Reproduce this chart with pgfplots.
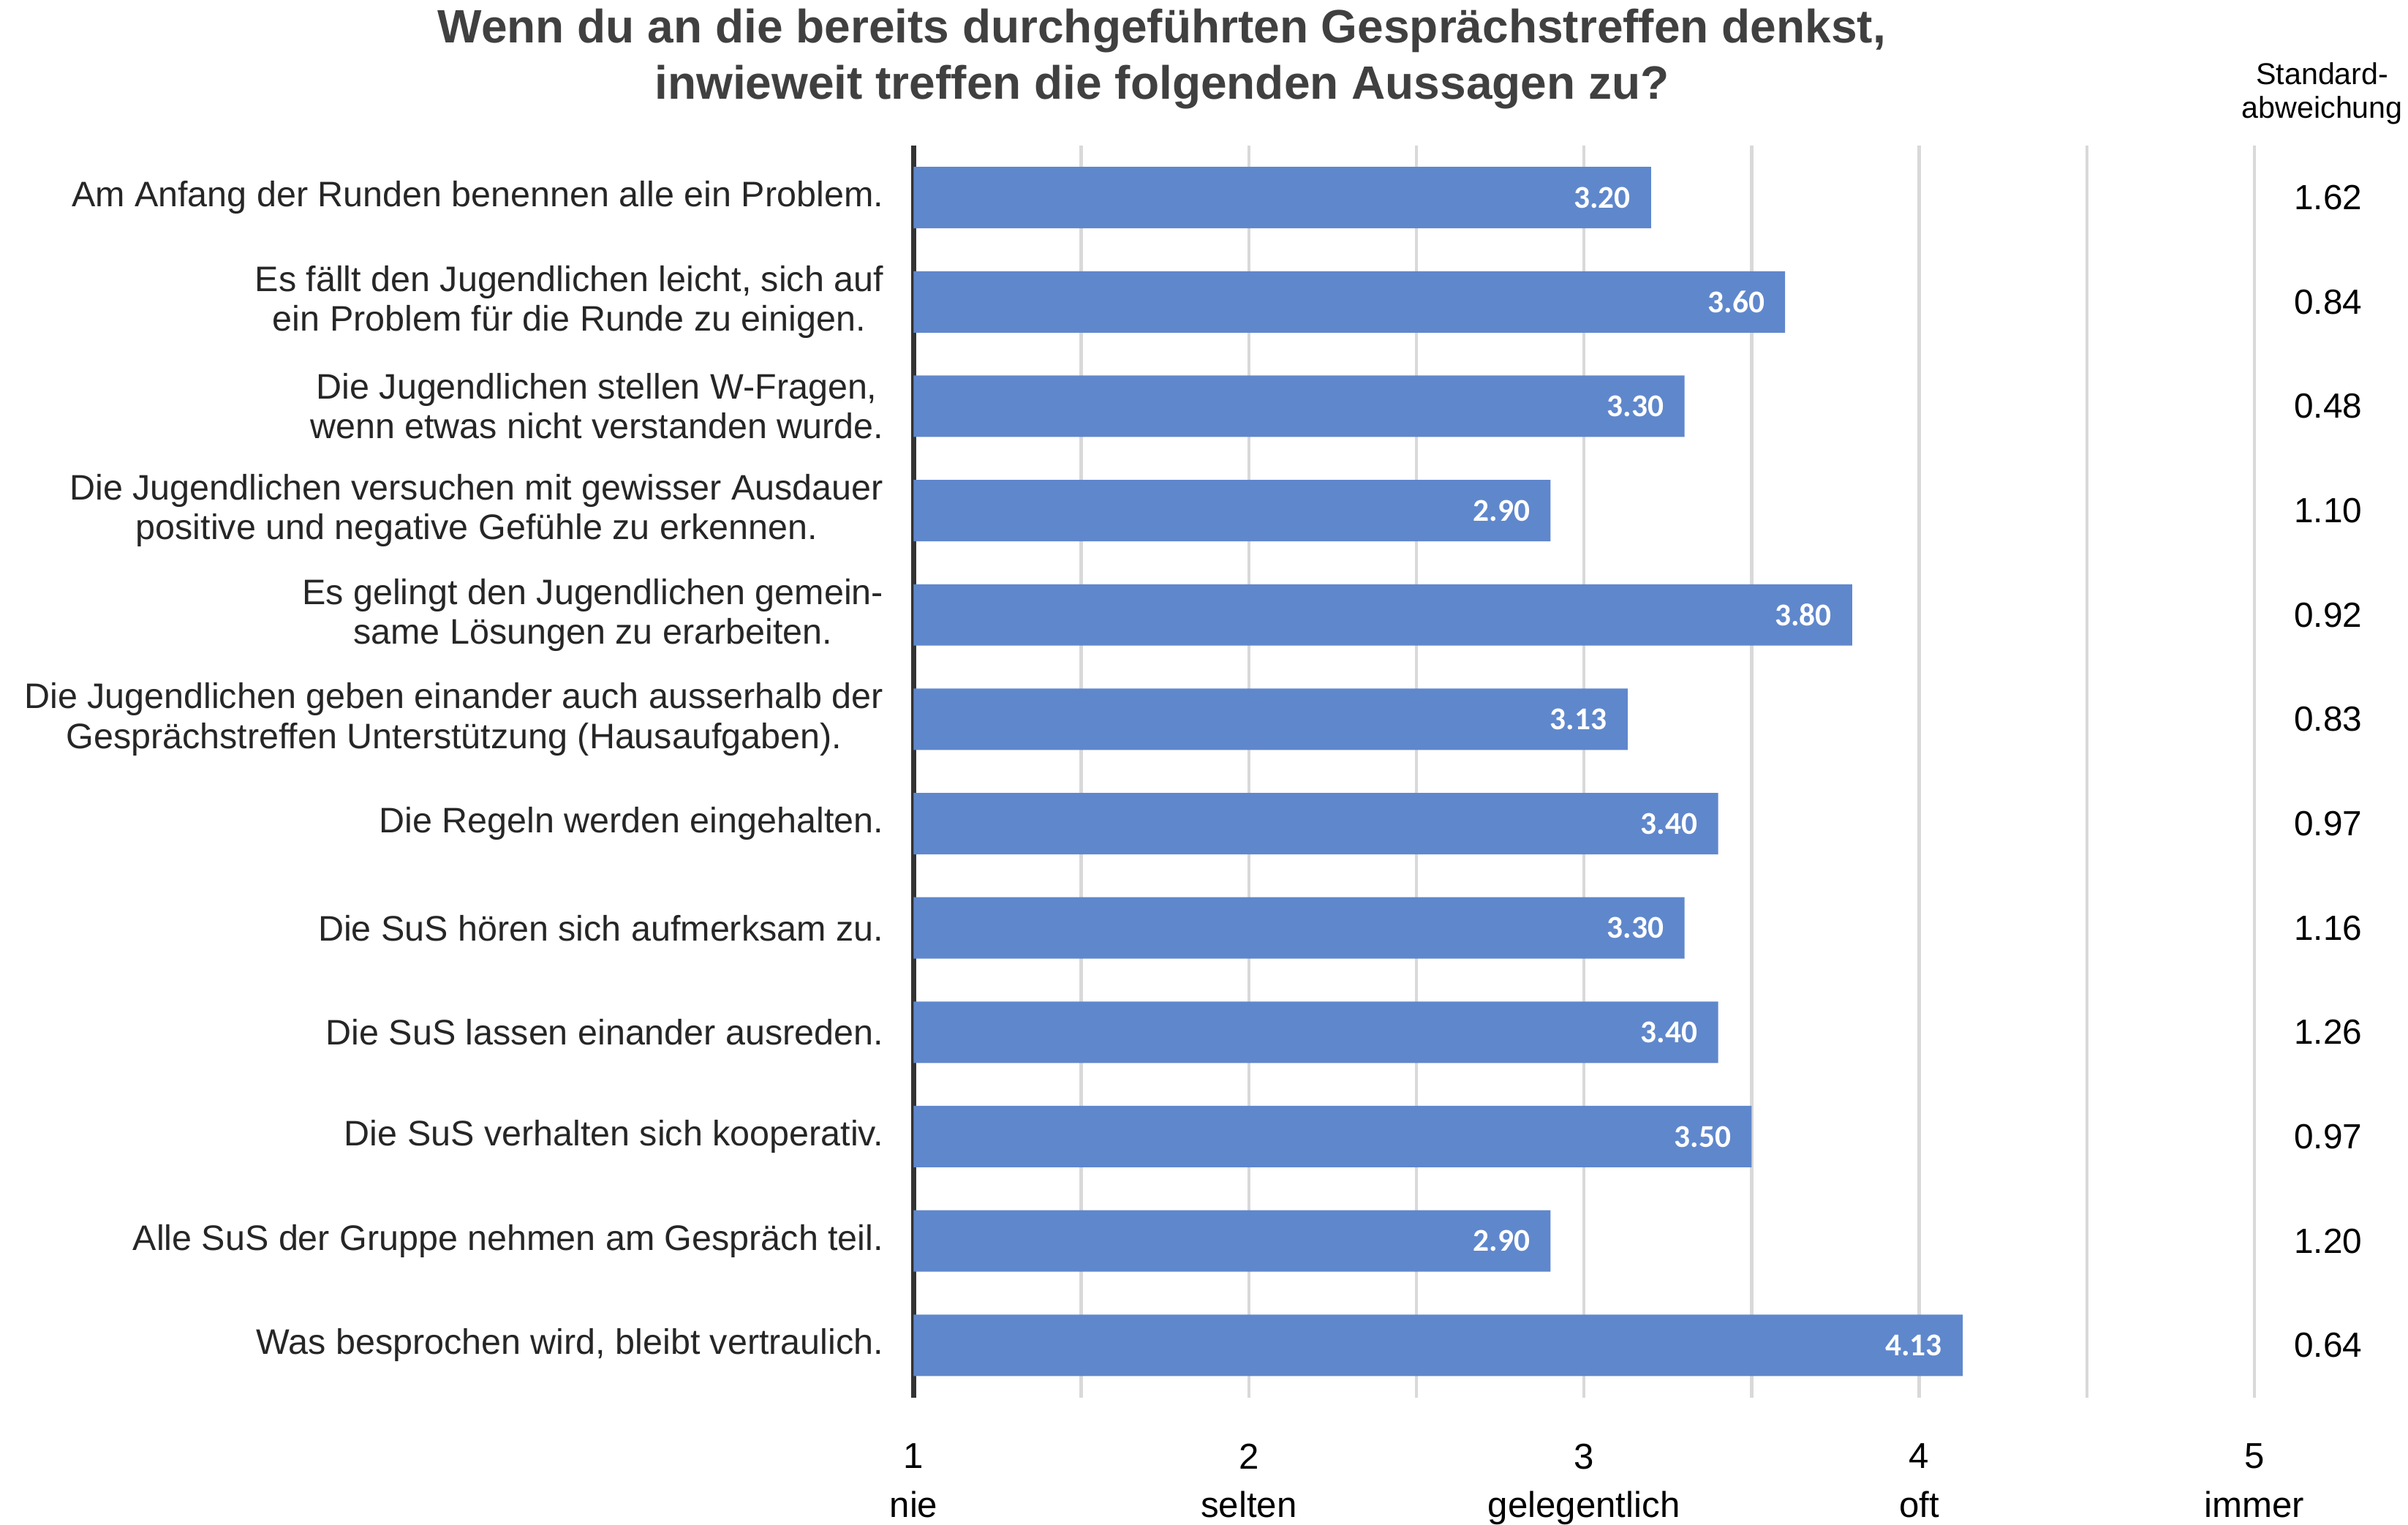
\documentclass[border=0pt]{standalone}
\usepackage{pgfplots}
\pgfplotsset{compat=1.18}
\usepackage{pgfplotstable}
\usepackage{fontspec}
\setmainfont{Liberation Sans}
\newfontfamily\carlito{Carlito}

\definecolor{barblue}{HTML}{5F87CC}
\definecolor{gridgray}{HTML}{D9D9D9}
\definecolor{titlegray}{HTML}{404040}

% idx = row from the top, mean rating (1..5), standard deviation
\pgfplotstableread{
idx mean sd
0  3.20 1.62
1  3.60 0.84
2  3.30 0.48
3  2.90 1.10
4  3.80 0.92
5  3.13 0.83
6  3.40 0.97
7  3.30 1.16
8  3.40 1.26
9  3.50 0.97
10 2.90 1.20
11 4.13 0.64
}\ratings

\begin{document}
\begin{tikzpicture}
\useasboundingbox (0,0) rectangle (16cm,10.13cm);
\begin{axis}[
    at={(6.071cm,0.847cm)}, anchor=south west,
    scale only axis, width=8.908cm, height=8.317cm,
    xmin=0, xmax=4, ymin=-0.5, ymax=11.5, y dir=reverse,
    clip=false,
    axis line style={draw=none},
    major tick length=0, minor tick length=0,
    xtick={0,1,2,3,4},
    xticklabels={{1\\nie},{2\\selten},{3\\gelegentlich},{4\\oft},{5\\immer}},
    minor xtick={0.5,1.5,2.5,3.5},
    xmajorgrids, xminorgrids,
    major grid style={gridgray, line width=0.6pt},
    minor grid style={gridgray, line width=0.6pt},
    extra x ticks={0}, extra x tick labels={},
    extra x tick style={major grid style={black!80, line width=1.1pt}},
    ytick={0,...,11},
    yticklabels={
        {Am Anfang der Runden benennen alle ein Problem.},
        {Es fällt den Jugendlichen leicht, sich auf\\ein Problem für die Runde zu einigen.},
        {Die Jugendlichen stellen W-Fragen,\\wenn etwas nicht verstanden wurde.},
        {Die Jugendlichen versuchen mit gewisser Ausdauer\\positive und negative Gefühle zu erkennen.},
        {Es gelingt den Jugendlichen gemein-\\same Lösungen zu erarbeiten.},
        {Die Jugendlichen geben einander auch ausserhalb der\\Gesprächstreffen Unterstützung (Hausaufgaben).},
        {Die Regeln werden eingehalten.},
        {Die SuS hören sich aufmerksam zu.},
        {Die SuS lassen einander ausreden.},
        {Die SuS verhalten sich kooperativ.},
        {Alle SuS der Gruppe nehmen am Gespräch teil.},
        {Was besprochen wird, bleibt vertraulich.}},
    yticklabel style={align=center, font=\fontsize{6.7}{7.5}\selectfont,
        text=black!85, inner sep=0pt, xshift=-0.194cm},
    xticklabel style={align=center, font=\fontsize{6.8}{9.2}\selectfont,
        inner sep=0pt, yshift=-0.3cm},
]
% bars start at rating 1, so the axis runs from 0 (=1) to 4 (=5)
\addplot[xbar, bar shift=0pt, bar width=0.408cm, fill=barblue, draw=none,
    point meta=explicit,
    nodes near coords={\pgfmathprintnumber[fixed,fixed zerofill,precision=2,assume math mode=true]{\pgfplotspointmeta}},
    every node near coord/.append style={anchor=east, inner sep=0pt, xshift=-0.13cm,
        text=white, font=\carlito\bfseries\fontsize{6}{7}\selectfont}]
    table[x expr=\thisrow{mean}-1, y=idx, meta=mean]{\ratings};

% standard deviation column on the right
\addplot[draw=none, mark=none, point meta=explicit symbolic,
    nodes near coords,
    every node near coord/.append style={anchor=center, inner sep=0pt,
        text=black, font=\fontsize{6.6}{7}\selectfont}]
    table[x expr=4.22, y=idx, meta=sd]{\ratings};
\end{axis}

\node[align=center, font=\bfseries\fontsize{8.85}{10.7}\selectfont, text=titlegray]
    at (7.72cm,9.737cm) {Wenn du an die bereits durchgeführten Gesprächstreffen denkst,\\inwieweit treffen die folgenden Aussagen zu?};
\node[align=center, font=\fontsize{5.7}{6.4}\selectfont]
    at (15.43cm,9.508cm) {Standard-\\abweichung};
\end{tikzpicture}
\end{document}
